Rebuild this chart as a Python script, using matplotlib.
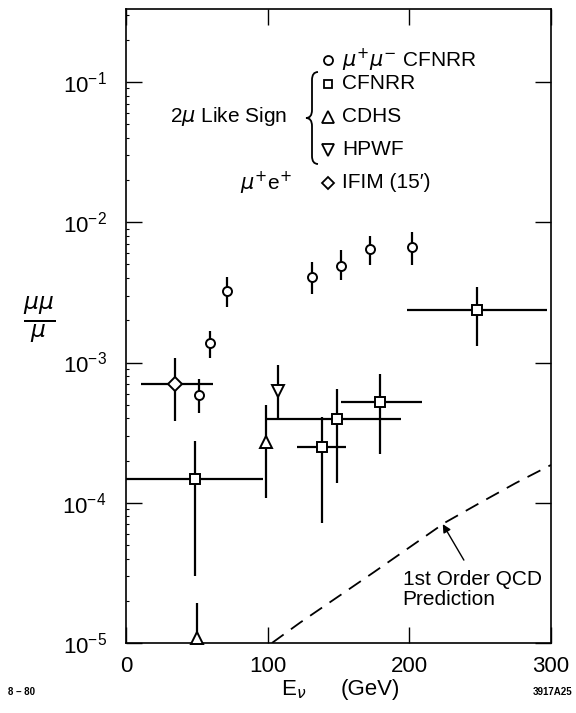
import numpy as np
import matplotlib
matplotlib.use("Agg")
import matplotlib.pyplot as plt
from matplotlib.path import Path
from matplotlib.patches import PathPatch

plt.rcParams['font.family'] = ['Liberation Sans', 'DejaVu Sans']
plt.rcParams['mathtext.fontset'] = 'dejavusans'

# mu+ mu- opposite sign, CFNRR
os_e = [51.7, 59.4, 71.5, 131.6, 151.5, 172.0, 201.7]
os_r = [5.9e-4, 1.38e-3, 3.25e-3, 4.1e-3, 4.9e-3, 6.4e-3, 6.7e-3]
os_lo = [4.4e-4, 1.08e-3, 2.5e-3, 3.1e-3, 3.9e-3, 4.95e-3, 4.95e-3]
os_hi = [7.6e-4, 1.68e-3, 4.1e-3, 5.2e-3, 6.3e-3, 8.0e-3, 8.5e-3]

# like sign CFNRR (energy bins)
cf_e = [49, 138, 149, 179, 248]
cf_elo = [0, 121, 99, 152, 198]
cf_ehi = [97, 155, 194, 209, 297]
cf_r = [1.48e-4, 2.5e-4, 3.95e-4, 5.2e-4, 2.37e-3]
cf_lo = [3.0e-5, 7.2e-5, 1.38e-4, 2.24e-4, 1.31e-3]
cf_hi = [2.75e-4, 4.08e-4, 6.47e-4, 8.28e-4, 3.45e-3]

# CDHS
cd_e = [50, 99]
cd_r = [1.08e-5, 2.7e-4]
cd_lo = [1.08e-5, 1.08e-4]
cd_hi = [1.93e-5, 5.0e-4]

# HPWF
hp_e = [107.6]
hp_r = [6.3e-4]
hp_lo = [4.0e-4]
hp_hi = [9.6e-4]

# IFIM (15') mu+ e+
if_e = [34.7]
if_elo = [10.6]
if_ehi = [61.6]
if_r = [7.0e-4]
if_lo = [3.8e-4]
if_hi = [1.07e-3]

# first order QCD prediction
qcd_e = [103, 123, 150, 175, 200, 225, 250, 275, 300]
qcd_r = [1.0e-5, 1.4e-5, 2.15e-5, 3.2e-5, 4.8e-5, 7.2e-5, 1.0e-4, 1.38e-4, 1.86e-4]

yticks = [1e-5, 1e-4, 1e-3, 1e-2, 1e-1]
ytick_labels = [r'$\mathdefault{10^{-5}}$', r'$\mathdefault{10^{-4}}$',
                r'$\mathdefault{10^{-3}}$', r'$\mathdefault{10^{-2}}$',
                r'$\mathdefault{10^{-1}}$']
xticks = [0, 100, 200, 300]

W, H = 576, 713
fig = plt.figure(figsize=(W / 100, H / 100), dpi=100)
ax = fig.add_axes([126 / W, 1 - 643 / H, 425 / W, 634 / H])
ax.set_yscale('log')
ax.set_xlim(0, 300)
ax.set_ylim(1e-5, 10 ** -0.4795)


def yerr(r, lo, hi):
    r, lo, hi = map(np.asarray, (r, lo, hi))
    return [r - lo, hi - r]


ebar = dict(ls='none', ecolor='black', elinewidth=1.6, capsize=0,
            mec='black', mfc='white', mew=1.4, clip_on=False, zorder=3)

ax.errorbar(os_e, os_r, yerr=yerr(os_r, os_lo, os_hi), fmt='o', ms=6.5, **ebar)
ax.errorbar(cf_e, cf_r, yerr=yerr(cf_r, cf_lo, cf_hi),
            xerr=yerr(cf_e, cf_elo, cf_ehi), fmt='s', ms=6.5, **ebar)
ax.errorbar(cd_e, cd_r, yerr=yerr(cd_r, cd_lo, cd_hi), fmt='^', ms=9, **ebar)
ax.errorbar(hp_e, hp_r, yerr=yerr(hp_r, hp_lo, hp_hi), fmt='v', ms=9, **ebar)
ax.errorbar(if_e, if_r, yerr=yerr(if_r, if_lo, if_hi),
            xerr=yerr(if_e, if_elo, if_ehi), fmt='D', ms=7.5, **ebar)

ax.plot(qcd_e, qcd_r, color='black', lw=1.3, ls=(0, (8, 5)))

# arrow pointing at the prediction curve
arr_e = 223.6
arr_r = 10 ** np.interp(arr_e, qcd_e, np.log10(qcd_r))
ax.annotate('', xy=(arr_e, arr_r), xytext=(238.5, 3.9e-5),
            arrowprops=dict(arrowstyle='-|>', color='black', lw=1.0,
                            mutation_scale=12, shrinkA=0, shrinkB=0))
ax.text(195.3, 3.3e-5, '1st Order QCD\nPrediction', fontsize=15,
        ha='left', va='top', linespacing=1.05)

# axes styling
for s in ax.spines.values():
    s.set_linewidth(1.2)
ax.set_yticks(yticks)
ax.set_yticklabels(ytick_labels)
ax.set_xticks(xticks)
ax.set_xticklabels([str(t) for t in xticks])
ax.tick_params(axis='both', which='major', direction='in', length=11.5,
               width=1.0, labelsize=16, top=True, right=True)
ax.tick_params(axis='y', which='major', pad=14)
ax.tick_params(axis='x', which='major', pad=9)
ax.tick_params(axis='y', which='minor', direction='in', length=2, width=0.8,
               left=True, right=False)
ax.yaxis.set_minor_formatter(plt.NullFormatter())

# legend block
def ax_xy(px, py):
    return (px - 126) / 425, (643 - py) / 634


mk_x = 328
tx_x = 342
rows = [
    ('o', 6.5, r'$\mu^{+}\mu^{-}$ CFNRR', 60),
    ('s', 6.0, 'CFNRR', 84),
    ('^', 8.0, 'CDHS', 117),
    ('v', 8.0, 'HPWF', 150),
    ('D', 6.5, 'IFIM (15\u2032)', 183),
]
for mk, ms, label, py in rows:
    x0, y0 = ax_xy(mk_x, py)
    ax.plot([x0], [y0], marker=mk, ms=ms, mfc='white', mec='black', mew=1.3,
            transform=ax.transAxes, clip_on=False)
    x1, _ = ax_xy(tx_x, py)
    ax.text(x1, y0, label, transform=ax.transAxes, fontsize=15,
            ha='left', va='center')

x2, y2 = ax_xy(287, 117)
ax.text(x2, y2, r'2$\mu$ Like Sign', transform=ax.transAxes, fontsize=15,
        ha='right', va='center')
x3, y3 = ax_xy(292, 183)
ax.text(x3, y3, r'$\mu^{+}$e$^{+}$', transform=ax.transAxes, fontsize=15,
        ha='right', va='center')

# curly brace grouping the like-sign experiments
def fxy(px, py):
    return px / W, 1 - py / H


verts = [fxy(318, 72), fxy(312, 72), fxy(312, 80),
         fxy(312, 110),
         fxy(312, 118), fxy(306, 118),
         fxy(312, 118), fxy(312, 126),
         fxy(312, 156),
         fxy(312, 164), fxy(318, 164)]
codes = [Path.MOVETO, Path.CURVE3, Path.CURVE3,
         Path.LINETO,
         Path.CURVE3, Path.CURVE3,
         Path.CURVE3, Path.CURVE3,
         Path.LINETO,
         Path.CURVE3, Path.CURVE3]
fig.patches.append(PathPatch(Path(verts, codes), fill=False, lw=1.3,
                             transform=fig.transFigure))

# axis titles
fig.text(39 / W, 1 - 320 / H, r'$\frac{\mu\mu}{\mu}$', fontsize=24,
         ha='center', va='center')
fig.text(294 / W, 1 - 690 / H, r'E$_\nu$', fontsize=16, ha='center', va='center')
fig.text(370 / W, 1 - 690 / H, '(GeV)', fontsize=16, ha='center', va='center')
fig.text(8 / W, 1 - 692 / H, '8 \u2013 80', fontsize=7, fontweight='bold',
         ha='left', va='center')
fig.text(572 / W, 1 - 692 / H, '3917A25', fontsize=7, fontweight='bold',
         ha='right', va='center')

fig.savefig('out.png', dpi=100)
